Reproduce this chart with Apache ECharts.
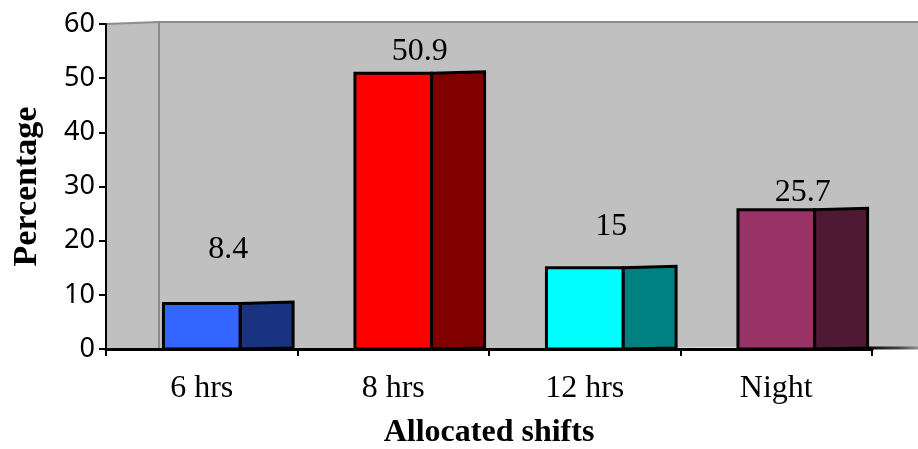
<!DOCTYPE html>
<html>
<head>
<meta charset="utf-8">
<script src="https://cdn.jsdelivr.net/npm/echarts@6/dist/echarts.min.js"></script>
<style>
  html, body { margin: 0; padding: 0; background: #fff; }
  #chart { width: 918px; height: 449px; }
</style>
</head>
<body>
<div id="chart"></div>
<script>
// shift types and share of staff (%)
var shifts = ['6 hrs', '8 hrs', '12 hrs', 'Night'];
var percents = [8.4, 50.9, 15, 25.7];
var yTicks = [0, 10, 20, 30, 40, 50, 60];

// front face / side face colours per bar
var frontColors = ['#3366FF', '#FF0000', '#00FFFF', '#993366'];
var sideColors = ['#1A3380', '#800000', '#008080', '#4D1933'];
// how far each value label floats above its bar (px), as in the picture
var labelLift = [54, 22, 41, 17];

var chart = echarts.init(document.getElementById('chart'));

function renderBar(params, api) {
    var i = api.value(0);
    var v = api.value(1);
    var top = api.coord([i, v]);
    var base = api.coord([i, 0]);
    var band = api.size([1, 0])[0];
    var fw = band * 0.40;   // front face
    var sw = band * 0.277;  // side face
    var x0 = top[0] - fw / 2;
    var x1 = x0 + fw;
    var x2 = x1 + sw;
    return {
        type: 'group',
        children: [{
            type: 'polygon',
            shape: { points: [[x1, top[1]], [x2, top[1] - 1.5], [x2, base[1] - 1], [x1, base[1]]] },
            style: { fill: sideColors[i], stroke: '#000', lineWidth: 3, lineJoin: 'miter' }
        }, {
            type: 'rect',
            shape: { x: x0, y: top[1], width: fw, height: base[1] - top[1] },
            style: { fill: frontColors[i], stroke: '#000', lineWidth: 3 }
        }, {
            type: 'text',
            x: (x0 + x2) / 2,
            y: top[1] - labelLift[i],
            style: {
                text: String(percents[i]),
                fill: '#000',
                font: '32px "Liberation Serif"',
                align: 'center',
                verticalAlign: 'middle'
            }
        }]
    };
}

var option = {
    backgroundColor: '#fff',
    animation: false,
    grid: { left: 106, right: 46, top: 24, bottom: 100, outerBoundsMode: 'none', containLabel: false },
    // grey back wall + side wall of the 3D plot area
    graphic: [{
        type: 'polygon',
        z: -10,
        shape: { points: [[106, 24], [159, 22], [918, 22], [918, 347], [106, 349]] },
        style: { fill: '#C0C0C0' }
    }, {
        type: 'polyline',
        z: -9,
        shape: { points: [[106, 24], [159, 22], [918, 22]] },
        style: { stroke: '#8C8C8C', lineWidth: 2, fill: null }
    }, {
        type: 'line',
        z: -9,
        shape: { x1: 159, y1: 22, x2: 159, y2: 348 },
        style: { stroke: '#8C8C8C', lineWidth: 2 }
    }, {
        type: 'line',
        z: -9,
        shape: { x1: 868, y1: 348, x2: 918, y2: 348 },
        style: {
            lineWidth: 3,
            stroke: new echarts.graphic.LinearGradient(0, 0, 1, 0, [
                { offset: 0, color: '#000' },
                { offset: 0.6, color: '#444' },
                { offset: 1, color: '#999' }
            ])
        }
    }],
    xAxis: {
        type: 'category',
        data: shifts,
        name: 'Allocated shifts',
        nameLocation: 'middle',
        nameGap: 68,
        nameTextStyle: { fontFamily: 'Liberation Serif', fontWeight: 'bold', fontSize: 32, color: '#000' },
        axisLine: { lineStyle: { color: '#000', width: 3 } },
        axisTick: { show: true, length: 7, lineStyle: { color: '#000', width: 2 } },
        axisLabel: { fontFamily: 'Liberation Serif', fontSize: 32, color: '#000', margin: 24 },
        splitLine: { show: false }
    },
    yAxis: {
        type: 'value',
        min: yTicks[0],
        max: yTicks[yTicks.length - 1],
        interval: 10,
        name: 'Percentage',
        nameLocation: 'middle',
        nameGap: 62,
        nameTextStyle: { fontFamily: 'Liberation Serif', fontWeight: 'bold', fontSize: 34, color: '#000' },
        axisLine: { show: true, lineStyle: { color: '#000', width: 2 } },
        axisTick: { show: true, length: 7, lineStyle: { color: '#000', width: 2 } },
        axisLabel: { fontFamily: 'Noto Sans', fontSize: 27, color: '#000', margin: 11 },
        splitLine: { show: false }
    },
    series: [{
        type: 'custom',
        renderItem: renderBar,
        data: percents.map(function (v, i) { return [i, v]; }),
        encode: { x: 0, y: 1 },
        z: 3
    }]
};
chart.setOption(option);
</script>
</body>
</html>
